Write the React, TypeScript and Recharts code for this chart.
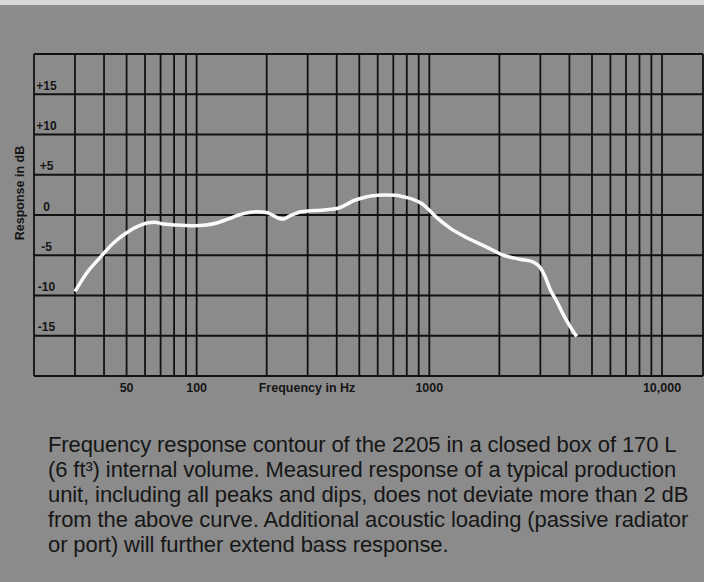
import React from "react";
import { LineChart, Line, XAxis, YAxis, CartesianGrid, Label } from "recharts";

// frequency (Hz) and response (dB)
const freqs = [
  30, 33.7, 38.4, 43.8, 50, 57, 62, 66, 70, 82, 97, 110, 122, 135, 150, 160,
  181, 200, 213, 225, 237, 248, 262, 280, 300, 340, 400, 440, 470, 520, 560,
  640, 720, 790, 850, 930, 975, 1074, 1224, 1443, 1755, 2085, 2450, 2800,
  2990, 3150, 3300, 3540, 3770, 4000, 4300,
];
const response = [
  -9.5, -7.2, -5.3, -3.5, -2.2, -1.3, -0.95, -0.9, -1.05, -1.25, -1.35, -1.25,
  -1.0, -0.55, -0.05, 0.2, 0.4, 0.3, -0.05, -0.4, -0.5, -0.2, 0.1, 0.4, 0.5,
  0.6, 0.8, 1.3, 1.75, 2.15, 2.35, 2.5, 2.45, 2.2, 1.95, 1.4, 0.9, -0.3, -1.6,
  -2.8, -3.95, -5.0, -5.5, -5.85, -6.5, -7.7, -9.2, -10.8, -12.4, -13.7, -15.1,
];

const gridFreqs = [
  30, 40, 50, 60, 70, 80, 90, 100, 200, 300, 400, 500, 600, 700, 800, 900,
  1000, 2000, 3000, 4000, 5000, 6000, 7000, 8000, 9000, 10000,
];
const dbTicks = [-20, -15, -10, -5, 0, 5, 10, 15, 20];

const freqLabels: Record<number, string> = {
  50: "50",
  100: "100",
  1000: "1000",
  10000: "10,000",
};
const dbLabels: Record<number, string> = {
  15: "+15",
  10: "+10",
  5: "+5",
  0: "0",
  [-5]: "-5",
  [-10]: "-10",
  [-15]: "-15",
};

const caption = [
  "Frequency response contour of the 2205 in a closed box of 170 L",
  "(6 ft\u00b3) internal volume. Measured response of a typical production",
  "unit, including all peaks and dips, does not deviate more than 2 dB",
  "from the above curve. Additional acoustic loading (passive radiator",
  "or port) will further extend bass response.",
];

const data = freqs.map((f, i) => ({ f, db: response[i] }));

const ink = "#161616";
const font = "'Liberation Sans', Arial, sans-serif";

const FreqTick = ({ x, y, payload }: any) => {
  const t = freqLabels[payload.value];
  if (!t) return <g />;
  return (
    <text x={x} y={y + 16} textAnchor="middle" fontSize={12.5} fontWeight={700} fill={ink} fontFamily={font}>
      {t}
    </text>
  );
};

const DbTick = ({ x, y, payload }: any) => {
  const t = dbLabels[payload.value];
  if (t === undefined) return <g />;
  return (
    <text x={x + 12.5} y={y - 4.5} textAnchor="middle" fontSize={12} fontWeight={700} fill={ink} fontFamily={font}>
      {t}
    </text>
  );
};

export default function App() {
  return (
    <div
      style={{
        position: "absolute",
        left: 0,
        top: 0,
        width: 704,
        height: 582,
        background: "#8b8b8b",
        borderTop: "5px solid #d8d8d8",
        boxSizing: "border-box",
        overflow: "hidden",
      }}
    >
      <div style={{ position: "absolute", left: 0, top: -5 }}>
        <LineChart width={704} height={400} data={data} margin={{ top: 54, right: 1, bottom: 0, left: 0 }}>
          <CartesianGrid stroke="#111" strokeWidth={1.8} strokeOpacity={1} />
          <XAxis
            dataKey="f"
            type="number"
            scale="log"
            domain={[20, 15000]}
            ticks={gridFreqs}
            allowDataOverflow
            axisLine={false}
            tickLine={false}
            tickSize={0}
            tickMargin={0}
            height={24}
            tick={<FreqTick />}
            interval={0}
          >
            <Label
              content={() => (
                <text x={307} y={392} textAnchor="middle" fontSize={12.5} fontWeight={700} fill={ink} fontFamily={font}>
                  Frequency in Hz
                </text>
              )}
            />
          </XAxis>
          <YAxis
            type="number"
            domain={[-20, 20]}
            ticks={dbTicks}
            allowDataOverflow
            axisLine={false}
            tickLine={false}
            tickSize={0}
            tickMargin={0}
            width={34}
            tick={<DbTick />}
            interval={0}
          >
            <Label
              content={() => (
                <text
                  transform="translate(24,193) rotate(-90)"
                  textAnchor="middle"
                  fontSize={12.5}
                  fontWeight={700}
                  fill={ink}
                  fontFamily={font}
                >
                  Response in dB
                </text>
              )}
            />
          </YAxis>
          <Line
            type="monotone"
            dataKey="db"
            stroke="#fafafa"
            strokeWidth={3.5}
            dot={false}
            isAnimationActive={false}
          />
        </LineChart>
      </div>
      <div
        style={{
          position: "absolute",
          left: 48,
          top: 427,
          fontFamily: font,
          fontSize: 22,
          lineHeight: "25px",
          letterSpacing: -0.1,
          color: ink,
          whiteSpace: "pre",
        }}
      >
        {caption.map((l) => (
          <div key={l}>{l}</div>
        ))}
      </div>
    </div>
  );
}
